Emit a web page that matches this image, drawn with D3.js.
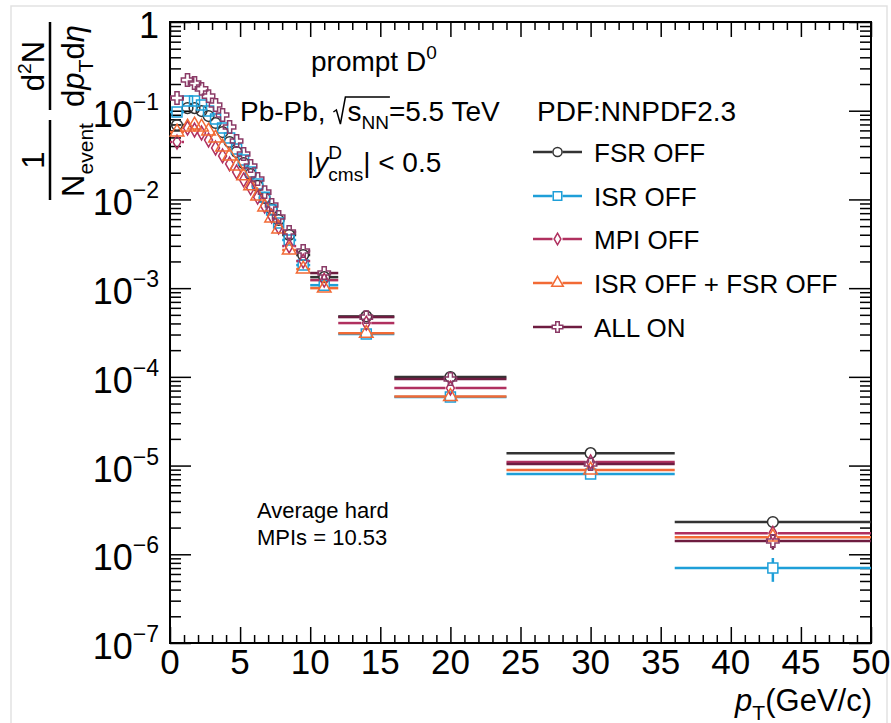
<!DOCTYPE html>
<html>
<head>
<meta charset="utf-8">
<script src="https://cdn.jsdelivr.net/npm/d3@7"></script>
<style>
body { margin: 0; background: #fff; }
text { font-family: "Liberation Sans", Arial, Helvetica, sans-serif; fill: #000; white-space: pre; }
</style>
</head>
<body>
<div id="vis"></div>
<script>
'use strict';

// pT bin edges (GeV/c)
var binEdges = [0, 1, 1.5, 2, 2.5, 3, 3.5, 4, 4.5, 5, 5.5, 6, 6.5, 7, 7.5, 8, 9, 10, 12, 16, 24, 36, 50];

var seriesNames = ['FSR OFF', 'ISR OFF', 'MPI OFF', 'ISR OFF + FSR OFF', 'ALL ON'];
var lineColors = ['#333333', '#1e9fd8', '#b0305f', '#f26a35', '#6e1c40'];
var markerColors = ['#333333', '#1e9fd8', '#b0305f', '#f26a35', '#8a3a66'];
var markerTypes = ['circle', 'square', 'diamond', 'triangle', 'cross'];

// 1/Nevent d2N/dpTdeta per bin
var fsrOff = [0.0690, 0.107, 0.107, 0.0992, 0.0871, 0.0727, 0.0575, 0.0444, 0.0342, 0.0257, 0.0193, 0.0142, 0.0104,
    0.00779, 0.00586, 0.00397, 0.00236, 0.00133, 4.8e-4, 9.95e-5, 1.38e-5, 2.31e-6];
var isrOff = [0.0967, 0.129, 0.129, 0.116, 0.0992, 0.0806, 0.0638, 0.0492, 0.0370, 0.0278, 0.0204, 0.0149, 0.0106,
    0.00760, 0.00542, 0.00349, 0.00182, 0.00108, 3.04e-4, 5.92e-5, 8.02e-6, 6.99e-7];
var mpiOff = [0.0444, 0.0638, 0.0606, 0.0561, 0.0467, 0.0380, 0.0309, 0.0251, 0.0204, 0.0166, 0.0135, 0.0106, 0.00842,
    0.00650, 0.00488, 0.00298, 0.00202, 0.00123, 4.04e-4, 7.48e-5, 1.10e-5, 1.73e-6];
var isrFsrOff = [0.0575, 0.0655, 0.0690, 0.0655, 0.0590, 0.0492, 0.0390, 0.0309, 0.0238, 0.0184, 0.0142, 0.0109, 0.00821,
    0.00617, 0.00464, 0.00269, 0.00164, 0.00100, 3.1e-4, 6.0e-5, 8.9e-6, 1.56e-6];
var allOn = [0.139, 0.222, 0.205, 0.176, 0.146, 0.116, 0.0894, 0.0655, 0.0455, 0.0325, 0.0238, 0.0170, 0.0121,
    0.00865, 0.00633, 0.00429, 0.00262, 0.00148, 4.72e-4, 9.45e-5, 1.04e-5, 1.41e-6];

// relative stat. errors per bin, last bin per series
var relErr = [0.01, 0.01, 0.01, 0.01, 0.01, 0.01, 0.01, 0.01, 0.01, 0.01, 0.01, 0.01, 0.01, 0.01, 0.01,
    0.015, 0.02, 0.03, 0.04, 0.05, 0.07];
var relErrLast = [0.08, 0.3, 0.12, 0.1, 0.2];

var xTicks = [0, 5, 10, 15, 20, 25, 30, 35, 40, 45, 50];
var yExps = [0, -1, -2, -3, -4, -5, -6, -7];

var allSeries = [fsrOff, isrOff, mpiOff, isrFsrOff, allOn];

(function () {
    var W = 891, H = 723;
    var svg = d3.select('#vis').append('svg').attr('width', W).attr('height', H);

    // light frame round the figure
    svg.append('rect').attr('x', 11).attr('y', 6).attr('width', 876).attr('height', 730)
        .attr('fill', 'none').attr('stroke', '#e2e2e2').attr('stroke-width', 1.5);

    var pLeft = 170, pRight = 871, pTop = 22, pBottom = 643;
    var xS = d3.scaleLinear().domain([0, 50]).range([pLeft, pRight]);
    var yS = d3.scaleLog().domain([1e-7, 1]).range([pBottom, pTop]);

    // lay out text runs one after another, returns total width
    function layout(g, x, y, size, parts) {
        var cx = x;
        function put(p, px) {
            var t = g.append('text').attr('x', px).attr('y', y + (p.dy || 0))
                .style('font-size', (size * (p.s || 1)) + 'px').text(p.t);
            if (p.it) { t.style('font-style', 'italic'); }
            var w = t.node().getComputedTextLength();
            p.x0 = px; p.x1 = px + w;
            return w;
        }
        parts.forEach(function (p) {
            if (p.stack) {
                var w1 = put(p.stack[0], cx), w2 = put(p.stack[1], cx);
                cx += Math.max(w1, w2);
            } else if (p.gap) {
                p.x0 = cx; cx += p.gap; p.x1 = cx;
            } else {
                cx += put(p, cx);
            }
        });
        return cx - x;
    }

    /* axes: ticks drawn inside the frame like ROOT */
    var minorX = d3.range(0, 51, 1).filter(function (v) { return v % 5 !== 0; });
    var minorY = [];
    yExps.slice(0, 7).forEach(function (e) {
        for (var m = 2; m <= 9; m++) { minorY.push(m * Math.pow(10, e - 1)); }
    });
    var majorY = yExps.map(function (e) { return Math.pow(10, e); });

    function tickAxis(axis, vals, size, tr) {
        var g = svg.append('g').attr('transform', tr)
            .call(axis.tickValues(vals).tickSize(size).tickFormat(''));
        g.select('.domain').remove();
        g.selectAll('line').attr('stroke', '#000').attr('stroke-width', 1.5);
    }
    tickAxis(d3.axisBottom(xS), xTicks, -16, 'translate(0,' + pBottom + ')');
    tickAxis(d3.axisBottom(xS), minorX, -8, 'translate(0,' + pBottom + ')');
    tickAxis(d3.axisTop(xS), xTicks, -15, 'translate(0,' + pTop + ')');
    tickAxis(d3.axisTop(xS), minorX, -8, 'translate(0,' + pTop + ')');
    tickAxis(d3.axisLeft(yS), majorY, -21, 'translate(' + pLeft + ',0)');
    tickAxis(d3.axisLeft(yS), minorY, -11, 'translate(' + pLeft + ',0)');
    tickAxis(d3.axisRight(yS), majorY, -22, 'translate(' + pRight + ',0)');
    tickAxis(d3.axisRight(yS), minorY, -11, 'translate(' + pRight + ',0)');

    svg.append('rect').attr('x', pLeft).attr('y', pTop).attr('width', pRight - pLeft).attr('height', pBottom - pTop)
        .attr('fill', 'none').attr('stroke', '#000').attr('stroke-width', 2);

    // x tick labels
    svg.append('g').selectAll('text').data(xTicks).enter().append('text')
        .attr('x', function (d) { return xS(d); })
        .attr('y', 674)
        .attr('text-anchor', 'middle')
        .style('font-size', '35px')
        .text(function (d) { return d; });

    // y tick labels 10^n
    yExps.forEach(function (e) {
        var g = svg.append('g');
        var base = yS(Math.pow(10, e)) + 16;
        var w;
        if (e === 0) {
            w = layout(g, 0, base, 36, [{ t: '1' }]);
        } else {
            w = layout(g, 0, base, 36, [{ t: '10' }, { t: '\u2212' + (-e), s: 0.64, dy: -17 }]);
        }
        g.attr('transform', 'translate(' + (159 - w) + ',0)');
    });

    // x axis title
    var xt = svg.append('g');
    var xw = layout(xt, 0, 711, 31, [{ t: 'p', it: true }, { t: 'T', s: 0.68, dy: 9 }, { t: '(GeV/c)' }]);
    xt.attr('transform', 'translate(' + (872 - xw) + ',0)');

    // y axis title, rotated double fraction
    var yt = svg.append('g').attr('transform', 'translate(50,200) rotate(-90)');
    function fracPart(cx, y, parts) {
        var g = yt.append('g');
        var w = layout(g, 0, y, 31, parts);
        g.attr('transform', 'translate(' + (cx - w / 2) + ',0)');
    }
    yt.append('line').attr('x1', 0).attr('x2', 80).attr('y1', 0).attr('y2', 0).attr('stroke', '#000').attr('stroke-width', 2.5);
    yt.append('line').attr('x1', 90).attr('x2', 178).attr('y1', 0).attr('y2', 0).attr('stroke', '#000').attr('stroke-width', 2.5);
    fracPart(40, -6, [{ t: '1' }]);
    fracPart(40, 34, [{ t: 'N' }, { t: 'event', s: 0.68, dy: 9 }]);
    fracPart(134, -6, [{ t: 'd' }, { t: '2', s: 0.62, dy: -13 }, { t: 'N' }]);
    fracPart(134, 34, [{ t: 'd' }, { t: 'p', it: true }, { t: 'T', s: 0.68, dy: 9 }, { t: 'd' }, { t: '\u03b7', it: true }]);

    /* data points with error bars */
    var plot = svg.append('g');
    var symbolOf = {
        circle: d3.symbol().type(d3.symbolCircle).size(90),
        square: d3.symbol().type(d3.symbolSquare).size(100),
        diamond: d3.symbol().type(d3.symbolDiamond).size(55),
        triangle: d3.symbol().type(d3.symbolTriangle).size(80),
        cross: d3.symbol().type(d3.symbolCross).size(85)
    };
    var GAP = 5;

    function drawPoint(g, si, cx, cy, xl, xr, yt2, yb, scale) {
        var segs = [];
        if (cx - GAP > xl) { segs.push([xl, cy, cx - GAP, cy]); }
        if (xr > cx + GAP) { segs.push([cx + GAP, cy, xr, cy]); }
        if (cy - GAP > yt2) { segs.push([cx, yt2, cx, cy - GAP]); }
        if (yb > cy + GAP) { segs.push([cx, cy + GAP, cx, yb]); }
        segs.forEach(function (s) {
            g.append('line').attr('x1', s[0]).attr('y1', s[1]).attr('x2', s[2]).attr('y2', s[3])
                .attr('stroke', lineColors[si]).attr('stroke-width', 2.5);
        });
        g.append('path').attr('d', symbolOf[markerTypes[si]]())
            .attr('transform', 'translate(' + cx + ',' + cy + ') scale(' + scale + ')')
            .attr('fill', 'none').attr('stroke', markerColors[si]).attr('stroke-width', 1.5 / scale);
    }

    allSeries.forEach(function (vals, si) {
        var g = plot.append('g');
        vals.forEach(function (v, i) {
            var lo = binEdges[i], hi = binEdges[i + 1];
            var e = v * (i === vals.length - 1 ? relErrLast[si] : relErr[i]);
            drawPoint(g, si, xS((lo + hi) / 2), yS(v), xS(lo), xS(hi), yS(v + e), yS(v - e), 1);
        });
    });

    /* labels */
    layout(svg, 311, 71, 28, [{ t: 'prompt D' }, { t: '0', s: 0.68, dy: -12 }]);

    var pb = [{ t: 'Pb-Pb, ' }, { gap: 14 }, { t: 's' }, { t: 'NN', s: 0.68, dy: 8 }, { t: '=5.5 TeV' }];
    layout(svg, 240, 121, 28, pb);
    var r0 = pb[1].x0, rEnd = pb[3].x1 + 1;
    svg.append('path')
        .attr('d', 'M' + r0 + ',' + (121 - 9) + 'L' + (r0 + 3) + ',' + (121 - 11) + 'L' + (r0 + 7) + ',' + (121 + 3) +
            'L' + (r0 + 12) + ',' + (121 - 24) + 'L' + rEnd + ',' + (121 - 24))
        .attr('fill', 'none').attr('stroke', '#000').attr('stroke-width', 1.5);

    layout(svg, 307, 172, 28, [{ t: '|' }, { t: 'y', it: true },
        { stack: [{ t: 'D', s: 0.68, dy: -13 }, { t: 'cms', s: 0.68, dy: 9 }] }, { t: '| < 0.5' }]);

    layout(svg, 537, 121, 28, [{ t: 'PDF:NNPDF2.3' }]);

    layout(svg, 257, 518, 22, [{ t: 'Average hard' }]);
    layout(svg, 257, 545, 22, [{ t: 'MPIs = 10.53' }]);

    // legend
    var legRows = [152, 196, 239, 283, 327];
    seriesNames.forEach(function (name, si) {
        var g = svg.append('g');
        var ry = legRows[si];
        drawPoint(g, si, 557.5, ry, 533, 582, ry, ry, 0.85);
        layout(g, 594, ry + 9.5, 26, [{ t: name }]);
    });
})();
</script>
</body>
</html>
